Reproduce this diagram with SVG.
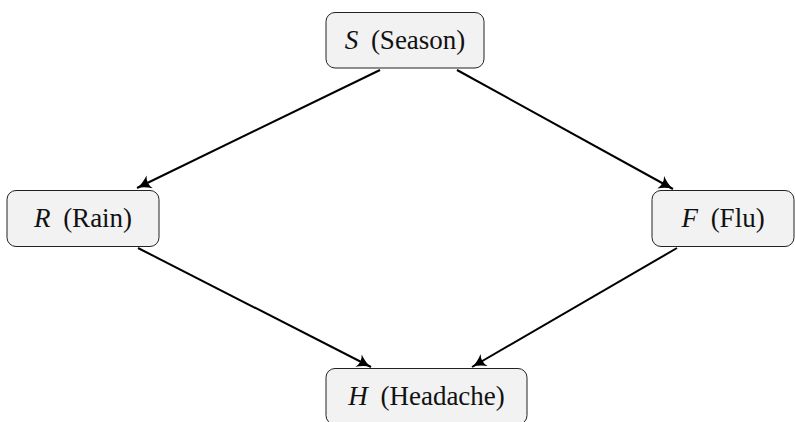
<svg xmlns="http://www.w3.org/2000/svg" width="795" height="422" viewBox="0 0 795 422">
<style>
.box{fill:#f2f2f2;stroke:#222;stroke-width:1}
.lbl{font-family:"Liberation Serif","DejaVu Serif",serif;font-size:27px;fill:#111;text-anchor:middle}
.v{font-style:italic}
.edge{stroke:#000;stroke-width:2;fill:none;marker-end:url(#ah)}
</style>
<defs>
<marker id="ah" viewBox="-14 -8 16 16" refX="1" refY="0" markerWidth="16" markerHeight="16" markerUnits="userSpaceOnUse" orient="auto">
<path d="M-13,-7 Q-6,-1.5 1,0 Q-6,1.5 -13,7 Q-9,0 -13,-7 Z" fill="#000"/>
</marker>
</defs>
<rect width="795" height="422" fill="#fff"/>
<g id="edges">
<path class="edge" d="M380,70 L137,188"/>
<path class="edge" d="M457,70 L673,189"/>
<path class="edge" d="M138,248 L371,367"/>
<path class="edge" d="M677,248 L472,367"/>
</g>
<g id="S">
<rect class="box" x="326" y="12.5" width="158" height="55.5" rx="9"/>
<text class="lbl" x="405" y="49"><tspan class="v">S</tspan><tspan dx="6"> (Season)</tspan></text>
</g>
<g id="R">
<rect class="box" x="7" y="190.5" width="152" height="56" rx="9"/>
<text class="lbl" x="83" y="227"><tspan class="v">R</tspan><tspan dx="6"> (Rain)</tspan></text>
</g>
<g id="F">
<rect class="box" x="652" y="190.5" width="142" height="56" rx="9"/>
<text class="lbl" x="723" y="227"><tspan class="v">F</tspan><tspan dx="6"> (Flu)</tspan></text>
</g>
<g id="H">
<rect class="box" x="326" y="368.5" width="201" height="56" rx="9"/>
<text class="lbl" x="426.5" y="405"><tspan class="v">H</tspan><tspan dx="6"> (Headache)</tspan></text>
</g>
</svg>
